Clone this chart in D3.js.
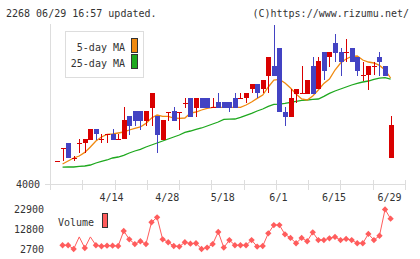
<!DOCTYPE html>
<html>
<head>
<meta charset="utf-8">
<script src="https://cdn.jsdelivr.net/npm/d3@7"></script>
<style>
body { margin: 0; background: #fff; }
svg { display: block; }
text { font-family: "DejaVu Sans Mono", "Liberation Mono", monospace; font-size: 10px; fill: #333; }
</style>
</head>
<body>
<svg width="420" height="259"></svg>
<script>
var svg = d3.select("svg"),
    width = +svg.attr("width"),
    height = +svg.attr("height");

// daily prices (index 0 = first day shown)
var open  = [4115,4180,4205,4130,4205,4205,4220,4275,4225,4250,4250,4225,4225,4340,4365,4365,4315,4380,4340,4220,
             4360,4365,4360,4405,4430,4380,4430,4430,4385,4410,4410,4410,4430,4430,4430,4475,4500,4475,4540,4590,
             4680,4360,4335,4450,4455,4450,4590,4475,4660,4635,4705,4660,4660,4680,4635,4545,4545,4590,4635,4590,4130];
var high  = [4115,4180,4205,4140,4225,4225,4275,4275,4250,4250,4275,4250,4385,4340,4365,4365,4365,4455,4340,4320,
             4360,4385,4360,4430,4430,4430,4430,4430,4430,4455,4410,4410,4455,4455,4455,4500,4500,4520,4635,4795,
             4680,4385,4475,4475,4590,4520,4635,4635,4660,4660,4750,4680,4725,4680,4635,4610,4590,4610,4660,4590,4340];
var low   = [4115,4115,4130,4115,4155,4155,4220,4220,4205,4205,4220,4220,4225,4245,4290,4270,4290,4290,4155,4220,
             4315,4315,4270,4380,4335,4335,4380,4380,4385,4380,4380,4360,4380,4430,4405,4455,4430,4455,4455,4540,
             4360,4290,4335,4405,4455,4450,4450,4475,4520,4585,4610,4540,4610,4610,4540,4515,4470,4545,4540,4540,4130];
var close = [4115,4180,4130,4130,4205,4225,4275,4250,4225,4250,4220,4225,4320,4290,4315,4315,4365,4455,4245,4320,
             4360,4315,4360,4405,4335,4430,4380,4380,4385,4380,4380,4380,4380,4430,4455,4500,4455,4520,4635,4540,
             4360,4335,4430,4475,4455,4520,4450,4615,4565,4660,4655,4610,4660,4610,4565,4545,4590,4590,4610,4540,4295];

var ma5  = [null,4100,4115,4130,4140,4158,4185,4215,4235,4248,4250,4255,4260,4270,4278,4285,4303,4330,4345,4338,
            4338,4330,4328,4330,4355,4360,4370,4378,4383,4383,4383,4383,4383,4383,4395,4410,4428,4445,4485,4520,
            4523,4505,4480,4450,4425,4420,4440,4470,4503,4525,4570,4605,4625,4638,4640,4620,4610,4605,4593,4570,4530];
var ma25 = [null,4084,4085,4085,4088,4090,4095,4105,4113,4120,4130,4135,4143,4155,4165,4173,4185,4195,4205,4215,
            4225,4235,4245,4258,4265,4273,4280,4290,4300,4310,4323,4324,4325,4333,4343,4353,4365,4375,4388,4398,
            4399,4403,4408,4413,4418,4420,4423,4425,4438,4453,4465,4475,4485,4495,4503,4510,4515,4523,4529,4532,4524];

var volume = [null,4600,4600,2700,8800,3200,8800,4600,4100,4400,4400,4200,11800,7600,5200,6600,5200,16200,18700,7600,
              6100,4200,3900,6100,5400,5600,2700,3400,5200,11300,3400,7200,4600,4600,4600,7200,3900,4200,10600,14800,
              14800,10100,8300,5600,8300,6600,11100,7200,7200,8100,8800,7200,7800,7200,5600,5600,10300,7200,9400,22700,18000];
var volNoMark = [4, 6];

var dateLabels = ["4/14", "4/28", "5/18", "6/1", "6/15", "6/29"];
var dateIdx = [10, 20, 30, 40, 50, 60];
var priceTicks = [4000];
var volTicks = [22900, 12800, 2700];

var red = "#d90000", blue = "#4343c3";

var x = d3.scaleLinear().domain([0, close.length - 1]).range([57, 390.6]);
var y = d3.scaleLinear().domain([4000, 4800]).range([184, 24]);
var yv = d3.scaleLinear().domain([2700, 22900]).range([249, 209]);

// header
svg.append("text").attr("x", 6).attr("y", 17).text("2268 06/29 16:57 updated.");
svg.append("text").attr("x", 409).attr("y", 17).attr("text-anchor", "end").text("(C)https://www.rizumu.net/");

// axes
var gx = d3.scaleLinear().domain([0, 11]).range([50, 405]);
svg.append("line").attr("x1", 50.5).attr("x2", 50.5).attr("y1", 24).attr("y2", 190)
    .attr("stroke", "#ddd");
svg.append("line").attr("x1", 45).attr("x2", 406).attr("y1", 184.5).attr("y2", 184.5)
    .attr("stroke", "#ddd");
svg.append("g").selectAll("line")
    .data(d3.range(1, 12))
    .enter().append("line")
    .attr("x1", function (d) { return Math.round(gx(d)) + 0.5; })
    .attr("x2", function (d) { return Math.round(gx(d)) + 0.5; })
    .attr("y1", 180).attr("y2", 190)
    .attr("stroke", "#ddd");

svg.append("g").selectAll("text")
    .data(priceTicks)
    .enter().append("text")
    .attr("x", 40).attr("y", function (d) { return y(d) + 3.5; })
    .attr("text-anchor", "end")
    .text(function (d) { return d; });

svg.append("g").selectAll("text")
    .data(dateIdx)
    .enter().append("text")
    .attr("x", function (d) { return x(d) - 1; })
    .attr("y", 201)
    .attr("text-anchor", "middle")
    .text(function (d, i) { return dateLabels[i]; });

// moving averages
var line = d3.line()
    .defined(function (d) { return d != null; })
    .x(function (d, i) { return x(i); })
    .y(function (d) { return y(d); });

svg.append("path").datum(ma25).attr("d", line)
    .attr("fill", "none").attr("stroke", "#1ea81e").attr("stroke-width", 1.3);
svg.append("path").datum(ma5).attr("d", line)
    .attr("fill", "none").attr("stroke", "#f08a10").attr("stroke-width", 1.3);

// candles
var candles = svg.append("g").attr("shape-rendering", "crispEdges")
    .selectAll("g")
    .data(close.map(function (c, i) { return { i: i, o: open[i], h: high[i], l: low[i], c: c }; }))
    .enter().append("g");

candles.append("line")
    .attr("x1", function (d) { return Math.round(x(d.i)) + 0.5; })
    .attr("x2", function (d) { return Math.round(x(d.i)) + 0.5; })
    .attr("y1", function (d) { return y(d.h); })
    .attr("y2", function (d) { return y(d.l); })
    .attr("stroke", function (d) { return d.c >= d.o ? red : blue; });

candles.append("rect")
    .attr("x", function (d) { return Math.round(x(d.i)) - 2; })
    .attr("width", 5)
    .attr("y", function (d) { return y(Math.max(d.o, d.c)); })
    .attr("height", function (d) { return Math.max(1, y(Math.min(d.o, d.c)) - y(Math.max(d.o, d.c))); })
    .attr("fill", function (d) { return d.c >= d.o ? red : blue; });

// legend
var lg = svg.append("g");
lg.append("rect").attr("x", 65.5).attr("y", 31.5).attr("width", 78).attr("height", 46)
    .attr("fill", "#fff").attr("stroke", "#ddd");
lg.append("text").attr("x", 125).attr("y", 51).attr("text-anchor", "end").attr("font-size", 11).text("5-day MA");
lg.append("text").attr("x", 125).attr("y", 67).attr("text-anchor", "end").attr("font-size", 11).text("25-day MA");
lg.append("rect").attr("x", 131.5).attr("y", 38.5).attr("width", 6).attr("height", 14)
    .attr("fill", "#f08a10").attr("stroke", "#333");
lg.append("rect").attr("x", 131.5).attr("y", 54.5).attr("width", 6).attr("height", 14)
    .attr("fill", "#1ea81e").attr("stroke", "#333");

// volume
svg.append("g").selectAll("text")
    .data(volTicks)
    .enter().append("text")
    .attr("x", 44).attr("y", function (d) { return yv(d) + 3.5; })
    .attr("text-anchor", "end")
    .text(function (d) { return d; });

var vline = d3.line()
    .defined(function (d) { return d != null; })
    .x(function (d, i) { return x(i); })
    .y(function (d) { return yv(d); });

svg.append("path").datum(volume).attr("d", vline)
    .attr("fill", "none").attr("stroke", "#ff5c5c").attr("stroke-width", 1);

svg.append("g").selectAll("path")
    .data(volume.map(function (v, i) { return { i: i, v: v }; })
        .filter(function (d) { return d.v != null && volNoMark.indexOf(d.i) < 0; }))
    .enter().append("path")
    .attr("d", d3.symbol().type(d3.symbolSquare).size(20))
    .attr("transform", function (d) { return "translate(" + x(d.i) + "," + yv(d.v) + ") rotate(45)"; })
    .attr("fill", "#ff5c5c");

svg.append("text").attr("x", 58).attr("y", 226).attr("font-size", 11).text("Volume");
svg.append("rect").attr("x", 102.5).attr("y", 213.5).attr("width", 5).attr("height", 14)
    .attr("fill", "#ff5c5c").attr("stroke", "#333");
</script>
</body>
</html>
